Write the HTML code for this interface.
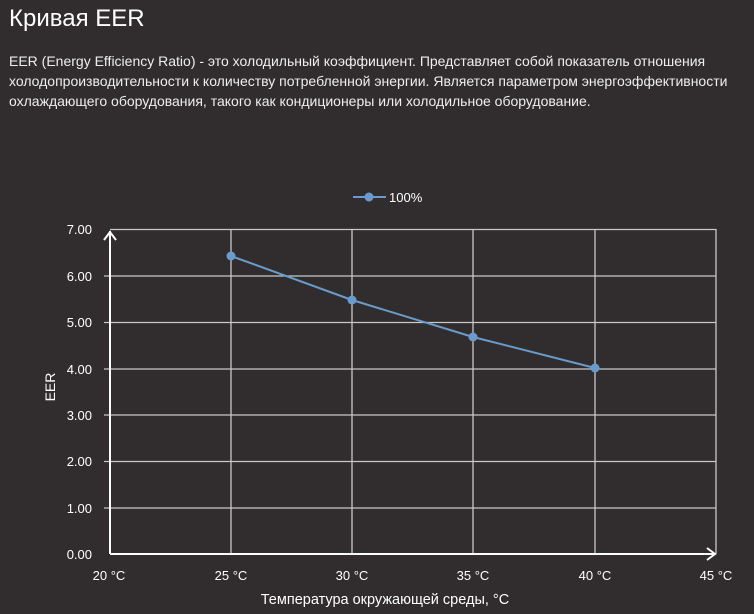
<!DOCTYPE html>
<html><head><meta charset="utf-8"><style>
body{margin:0;width:754px;height:614px;background:#312d2e;overflow:hidden;font-family:"Liberation Sans",sans-serif;color:#fff}
h1{position:absolute;left:9px;top:5px;margin:0;font-size:24px;font-weight:normal}
p{position:absolute;left:9px;top:51px;margin:0;width:740px;font-size:14px;line-height:20px;color:#eee}
svg{position:absolute;left:0;top:0}
</style></head><body>
<h1>Кривая EER</h1>
<p>EER (Energy Efficiency Ratio) - это холодильный коэффициент. Представляет собой показатель отношения холодопроизводительности к количеству потребленной энергии. Является параметром энергоэффективности охлаждающего оборудования, такого как кондиционеры или холодильное оборудование.</p>
<svg width="754" height="614" font-family="Liberation Sans, sans-serif">
<g stroke="#c8c8c8" stroke-width="1.3">
<line x1="110" y1="229.5" x2="716" y2="229.5"/>
<line x1="104" y1="276" x2="716" y2="276"/>
<line x1="104" y1="322.5" x2="716" y2="322.5"/>
<line x1="104" y1="369" x2="716" y2="369"/>
<line x1="104" y1="415" x2="716" y2="415"/>
<line x1="104" y1="461.5" x2="716" y2="461.5"/>
<line x1="104" y1="508" x2="716" y2="508"/>
<line x1="231" y1="229" x2="231" y2="554"/>
<line x1="352" y1="229" x2="352" y2="554"/>
<line x1="473" y1="229" x2="473" y2="554"/>
<line x1="595" y1="229" x2="595" y2="554"/>
<line x1="716" y1="229" x2="716" y2="554"/>
</g>
<g stroke="#fff" stroke-width="2" fill="none">
<line x1="110" y1="231" x2="110" y2="554"/>
<polyline points="104,240 110,232 116,240"/>
<line x1="110" y1="554" x2="715" y2="554"/>
<polyline points="707,548 715,554 707,560"/>
</g>
<g fill="#fff" font-size="13" text-anchor="end">
<text x="92" y="234">7.00</text><text x="92" y="281">6.00</text><text x="92" y="327">5.00</text>
<text x="92" y="374">4.00</text><text x="92" y="420">3.00</text><text x="92" y="466">2.00</text>
<text x="92" y="513">1.00</text><text x="92" y="559">0.00</text>
</g>
<g fill="#fff" font-size="13" text-anchor="middle">
<text x="109" y="580">20 °C</text><text x="231" y="580">25 °C</text><text x="352" y="580">30 °C</text>
<text x="473" y="580">35 °C</text><text x="595" y="580">40 °C</text><text x="716" y="580">45 °C</text>
<text x="385" y="604" font-size="14.5">Температура окружающей среды, °C</text>
<text x="50" y="392" font-size="14" transform="rotate(-90 50 387)">EER</text>
</g>
<polyline points="231,256 352,300 473,337 595,368" fill="none" stroke="#6a9bcc" stroke-width="2"/>
<g fill="#6a9bcc"><circle cx="231" cy="256" r="4.5"/><circle cx="352" cy="300" r="4.5"/><circle cx="473" cy="337" r="4.5"/><circle cx="595" cy="368" r="4.5"/></g>
<line x1="353" y1="197" x2="386" y2="197" stroke="#6a9bcc" stroke-width="2"/>
<circle cx="369" cy="197" r="4.5" fill="#6a9bcc"/>
<text x="389" y="202" fill="#fff" font-size="13">100%</text>
</svg>
</body></html>
